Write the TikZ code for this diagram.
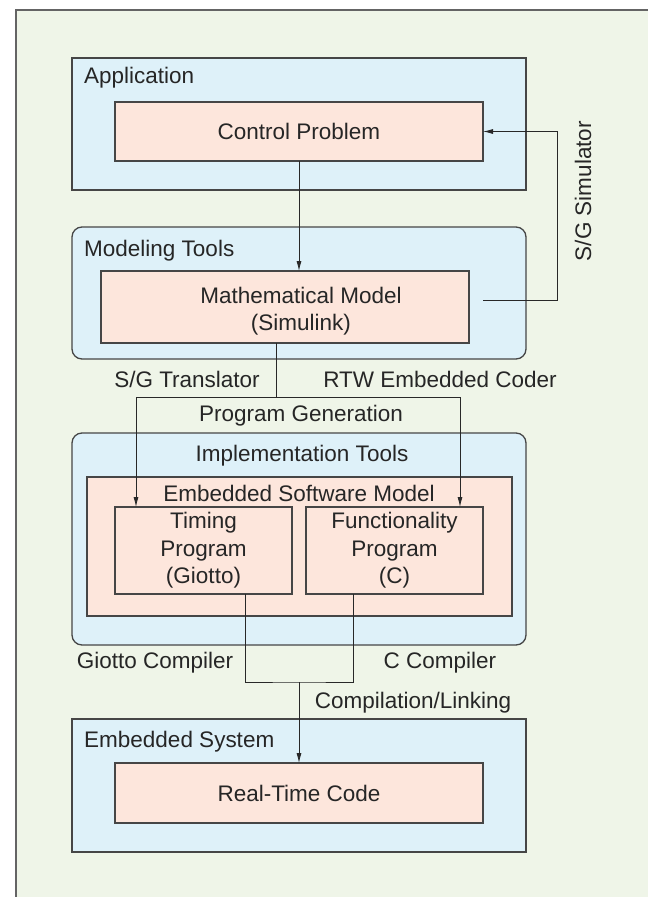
\documentclass[tikz,border=0pt]{standalone}
\usepackage{fontspec}
\setmainfont{Liberation Sans}
\usetikzlibrary{arrows.meta,calc}
\definecolor{bgfill}{RGB}{239,245,232}
\definecolor{bluefill}{RGB}{222,241,249}
\definecolor{pinkfill}{RGB}{253,230,220}
\definecolor{boxline}{RGB}{70,70,70}
\definecolor{linecol}{RGB}{40,40,40}
\definecolor{framecol}{RGB}{100,100,100}
\begin{document}
\begin{tikzpicture}[x=1pt,y=-1pt,
  every node/.style={font=\fontsize{22.5}{27.5}\selectfont, text=black!85},
  bluebox/.style={draw=boxline, fill=bluefill, line width=1.3pt, inner sep=0pt, outer sep=0pt},
  pinkbox/.style={draw=boxline, fill=pinkfill, line width=1.3pt, inner sep=0pt, outer sep=0pt, align=center},
  lbl/.style={inner sep=0pt, align=center},
  conn/.style={draw=linecol, line width=0.8pt},
  arr/.style={conn, -{Latex[length=10pt,width=5pt]}}]
\useasboundingbox (0,0) rectangle (648,897);
\fill[bgfill] (16,10) rectangle (648,897);
\draw[framecol, line width=2pt] (16,897) -- (16,10) -- (648,10);

% Application
\node[bluebox, minimum width=454, minimum height=132] (app) at (299,124) {};
\node[lbl, anchor=west] (applbl) at (84,78) {Application};
\node[pinkbox, minimum width=368, minimum height=59] (cp) at (299,131.5) {Control Problem};

% Modeling tools
\node[bluebox, rounded corners=10pt, minimum width=454, minimum height=132] (mt) at (299,293) {};
\node[lbl, anchor=west] (mtlbl) at (84,251) {Modeling Tools};
\node[pinkbox, minimum width=368, minimum height=72] (mm) at (285,307) {};
\node[lbl] (mmtext) at (301,311) {Mathematical Model\\(Simulink)};

% Implementation tools
\node[bluebox, rounded corners=10pt, minimum width=454, minimum height=212] (it) at (299,539) {};
\node[lbl] (itlbl) at (302,456) {Implementation Tools};
\node[pinkbox, minimum width=425, minimum height=139] (esm) at (299.5,546.5) {};
\node[lbl] (esmlbl) at (299,493) {Embedded Software Model};
\node[pinkbox, minimum width=177, minimum height=87] (tp) at (203.5,550.5) {};
\node[lbl] (tptext) at (203.5,550.5) {Timing\\Program\\(Giotto)};
\node[pinkbox, minimum width=177, minimum height=87] (fp) at (394.5,550.5) {};
\node[lbl] (fptext) at (394.5,550.5) {Functionality\\Program\\(C)};

% Embedded system
\node[bluebox, minimum width=454, minimum height=133] (es) at (299,785.5) {};
\node[lbl, anchor=west] (eslbl) at (84,742) {Embedded System};
\node[pinkbox, minimum width=368, minimum height=60] (rtc) at (299,793) {Real-Time Code};

% connector labels
\node[lbl, rotate=90] (simlbl) at (583,191) {S/G Simulator};
\node[lbl] (sgt) at (187,379) {S/G Translator};
\node[lbl] (rtw) at (440,379) {RTW Embedded Coder};
\node[lbl] (pg) at (301,416) {Program Generation};
\node[lbl] (gc) at (155,663) {Giotto Compiler};
\node[lbl] (cc) at (440,663) {C Compiler};
\node[lbl] (cl) at (413,703) {Compilation/Linking};

% connectors
\draw[arr] (cp.south) -- (cp.south |- mm.north);
\coordinate (simstart) at (483,300);
\coordinate (simcorner) at (557,131.5);
\draw[arr] (simstart) -| (simcorner) -- (cp.east);
\coordinate (gen) at (276,397);
\draw[conn] (gen |- mm.south) -- (gen);
\draw[arr] (gen) -| ([xshift=21pt]tp.north west);
\draw[arr] (gen) -| ([xshift=-23pt]fp.north east);
\coordinate (join) at (299,682);
\draw[conn] ([xshift=41.5pt]tp.south) |- (join) -| ([xshift=-41.5pt]fp.south);
\draw[arr] (join) -- (rtc.north);
\end{tikzpicture}
\end{document}
